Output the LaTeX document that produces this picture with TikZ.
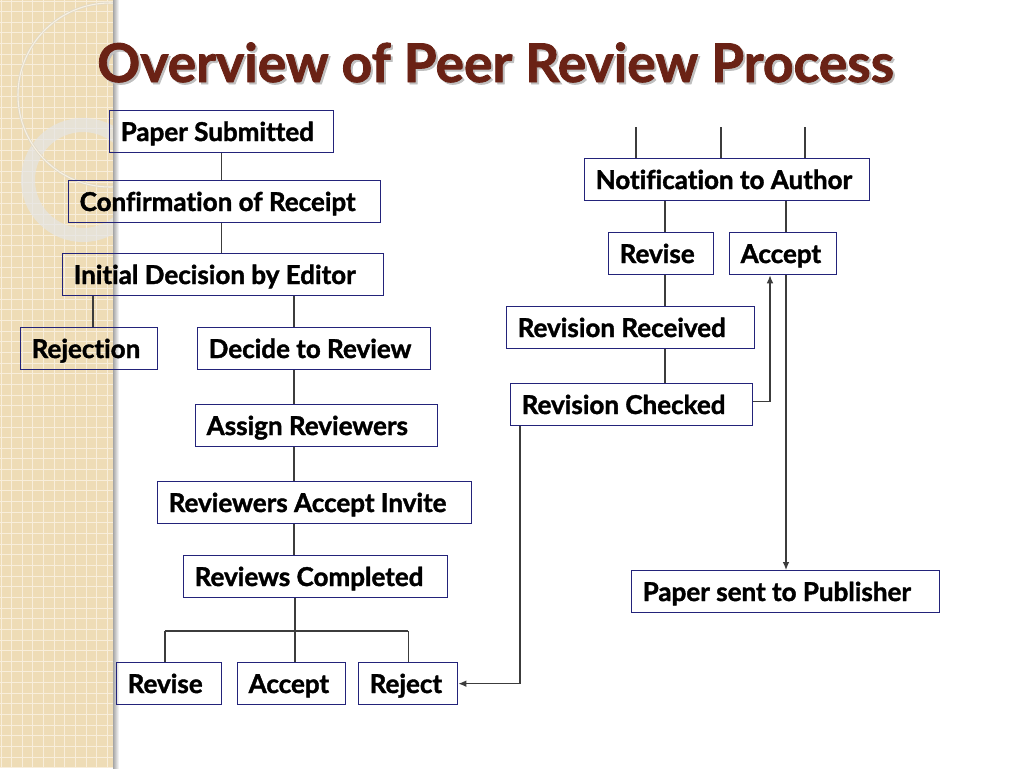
\documentclass[tikz,border=0pt]{standalone}
\usepackage{fontspec}
\setmainfont{Lato}[Ligatures=NoCommon, BoldFeatures={FakeBold=1.5}]
\usetikzlibrary{arrows.meta,calc}
\newdimen\pxu \pxu=0.75pt
\definecolor{boxblue}{HTML}{23237A}
\definecolor{titlered}{HTML}{6A2215}
\definecolor{stripc}{HTML}{EEDCB6}
\definecolor{gridc}{HTML}{F8EEDB}
\definecolor{linegray}{HTML}{3C3C3C}
\newcommand{\lbox}[2]{\makebox[#1\pxu][l]{#2}}
\tikzset{
  box/.style={draw=boxblue, line width=1pt, anchor=north west, minimum height=42\pxu,
    inner xsep=11\pxu, inner ysep=0pt, text height=14pt, text depth=0pt,
    font=\fontsize{19.5}{22}\selectfont\bfseries},
  conn/.style={draw=linegray, line width=0.9pt},
  arr/.style={conn, -{Latex[length=6pt,width=5pt]}},
  gridline/.style={draw=gridc, line width=0.7pt},
  titlefont/.style={font=\fontsize{40}{44}\selectfont\bfseries, anchor=base west, inner sep=0pt},
}
\begin{document}
\begin{tikzpicture}[x=0.75pt,y=-0.75pt]
\useasboundingbox (0,0) rectangle (1024,768);
\fill[white] (0,0) rectangle (1024,768);
% left strip
\fill[stripc] (0,0) rectangle (113,768);
\foreach \i in {0,...,72} {\draw[gridline] (0,{1+\i*10.65}) -- (113,{1+\i*10.65});}
\foreach \i in {0,...,10} {\draw[gridline] ({1+\i*10.65},0) -- ({1+\i*10.65},768);}
\begin{scope}
  \clip (0,0) rectangle (113,768);
  \draw[draw=black!10, line width=10.5pt, opacity=0.7] (83,180) circle [radius=55];
  \draw[draw=stripc!80!black!50, double=white!60!stripc, double distance=0.8pt, line width=0.5pt] (110,95) circle [radius=92];
\end{scope}
\shade[left color=black!35, right color=white] (113,0) rectangle (119,768);
% title
\node[titlefont, text=black!25] (titleshadow) at (99,84) {Overview of Peer Review Process};
\node[titlefont, text=titlered] (title) at (97,82) {Overview of Peer Review Process};
% left column
\node[box] (ps) at (109,110) {\lbox{202}{Paper Submitted}};
\node[box] (cr) at (68,180) {\lbox{290}{Confirmation of Receipt}};
\node[box] (id) at (62,253) {\lbox{299}{Initial Decision by Editor}};
\node[box] (rej) at (20,327) {\lbox{115}{Rejection}};
\node[box] (dr) at (197,327) {\lbox{211}{Decide to Review}};
\node[box] (ar) at (195,404) {\lbox{220}{Assign Reviewers}};
\node[box] (rai) at (157,481) {\lbox{292}{Reviewers Accept Invite}};
\node[box] (rcm) at (183,555) {\lbox{242}{Reviews Completed}};
\node[box] (rv1) at (116,662) {\lbox{83}{Revise}};
\node[box] (ac1) at (237,662) {\lbox{86}{Accept}};
\node[box] (rj1) at (358,662) {\lbox{77}{Reject}};
% right column
\node[box] (na) at (584,158) {\lbox{263}{Notification to Author}};
\node[box] (rv2) at (608,232) {\lbox{83}{Revise}};
\node[box] (ac2) at (729,232) {\lbox{85}{Accept}};
\node[box] (rr) at (506,306) {\lbox{226}{Revision Received}};
\node[box] (rch) at (510,383) {\lbox{220}{Revision Checked}};
\node[box] (pub) at (631,570) {\lbox{286}{Paper sent to Publisher}};
% column coordinates
\coordinate (sp) at (294,0);
\coordinate (rjx) at (93,0);
\coordinate (lx) at (165,0);
\coordinate (colA) at (665,0);
\coordinate (colB) at (786,0);
\coordinate (colC) at (770,0);
\coordinate (colD) at (520,0);
\coordinate (br) at (295,631);
\coordinate (t1) at (636,127);
\coordinate (t2) at (721,127);
\coordinate (t3) at (805,127);
% left connectors
\draw[conn] (ps.south) -- (ps.south |- cr.north);
\draw[conn] (ps.south |- cr.south) -- (ps.south |- id.north);
\draw[conn] (id.south -| rjx) -- (rej.north -| rjx);
\draw[conn] (id.south -| sp) -- (dr.north -| sp);
\draw[conn] (dr.south -| sp) -- (ar.north -| sp);
\draw[conn] (ar.south -| sp) -- (rai.north -| sp);
\draw[conn] (rai.south -| sp) -- (rcm.north -| sp);
\draw[conn] (rcm.south -| br) -- (br);
\draw[conn] (br -| lx) -- (br -| rj1.north);
\draw[conn] (br -| lx) -- (rv1.north -| lx);
\draw[conn] (br) -- (ac1.north -| br);
\draw[conn] (br -| rj1.north) -- (rj1.north);
% right connectors
\draw[conn] (t1) -- (t1 |- na.north);
\draw[conn] (t2) -- (t2 |- na.north);
\draw[conn] (t3) -- (t3 |- na.north);
\draw[conn] (na.south -| colA) -- (rv2.north -| colA);
\draw[conn] (na.south -| colB) -- (ac2.north -| colB);
\draw[conn] (rv2.south -| colA) -- (rr.north -| colA);
\draw[conn] (rr.south -| colA) -- (rch.north -| colA);
\draw[arr] ($(rch.east)+(0,-3)$) -| (ac2.south -| colC);
\draw[arr] (ac2.south -| colB) -- (pub.north -| colB);
\draw[arr] (rch.south -| colD) |- (rj1.east);
\end{tikzpicture}
\end{document}
